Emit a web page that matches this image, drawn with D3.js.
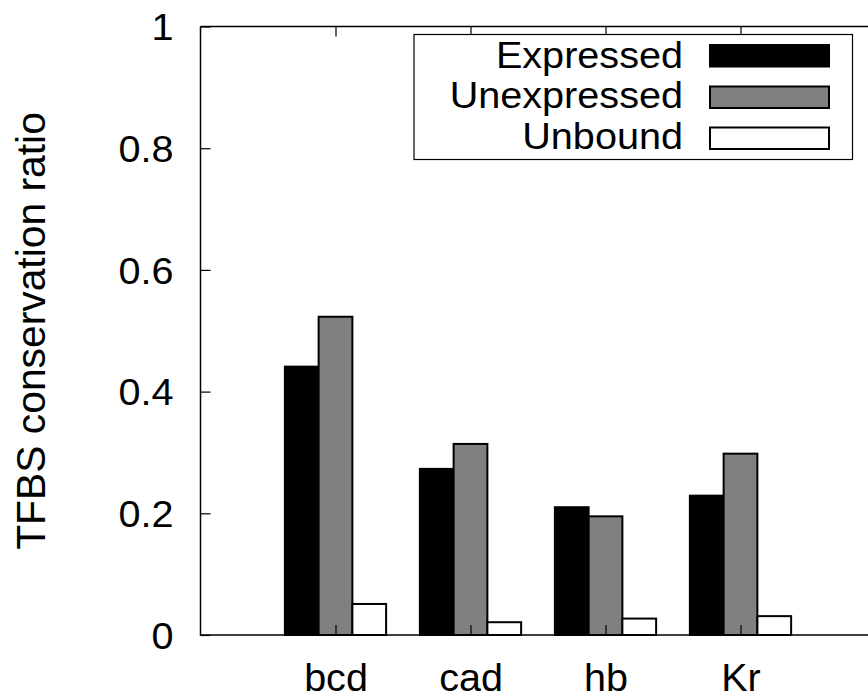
<!DOCTYPE html>
<html>
<head>
<meta charset="utf-8">
<script src="https://cdn.jsdelivr.net/npm/d3@7"></script>
<style>
  html, body { margin: 0; padding: 0; background: #fff; }
  svg { display: block; }
  text { font-family: "Liberation Sans", Arial, Helvetica, sans-serif; fill: #000; }
</style>
</head>
<body>
<svg id="chart" width="868" height="700"></svg>
<script>
const categories = ["bcd", "cad", "hb", "Kr"];
const seriesNames = ["Expressed", "Unexpressed", "Unbound"];
const expressed   = [0.441, 0.273, 0.210, 0.229];
const unexpressed = [0.523, 0.314, 0.195, 0.298];
const unbound     = [0.051, 0.021, 0.027, 0.031];
const yTicks = [0, 0.2, 0.4, 0.6, 0.8, 1];
const yTickLabels = ["0", "0.2", "0.4", "0.6", "0.8", "1"];
const yLabel = "TFBS conservation ratio";

const seriesValues = [expressed, unexpressed, unbound];
const seriesFill = ["#000000", "#808080", "#ffffff"];

const svg = d3.select("#chart");
const x = d3.scaleLinear().domain([0, 5]).range([200.5, 875.5]);
const y = d3.scaleLinear().domain([0, 1]).range([635, 26.5]);
const barW = 0.25;
const offsets = [-0.25, 0, 0.25];

function stretch(sel, f) {
  sel.each(function () {
    const len = this.getComputedTextLength();
    d3.select(this).attr("textLength", len * f).attr("lengthAdjust", "spacingAndGlyphs");
  });
}

// bars
seriesValues.forEach((vals, si) => {
  svg.append("g").selectAll("rect")
    .data(vals)
    .join("rect")
    .attr("x", (d, i) => x(i + 1 + offsets[si] - barW / 2))
    .attr("width", x(barW) - x(0))
    .attr("y", d => y(d))
    .attr("height", d => y(0) - y(d))
    .attr("fill", seriesFill[si])
    .attr("stroke", "#000")
    .attr("stroke-width", 2);
});

// border
const bx0 = x(0), bx1 = x(5), by0 = y(0), by1 = y(1);
svg.append("path")
  .attr("d", `M${bx0},${by1}H${bx1}M${bx0},${by1}V${by0}H${bx1}`)
  .attr("fill", "none").attr("stroke", "#000").attr("stroke-width", 1.5);

// y axis ticks (inward) and labels
const yAxis = d3.axisLeft(y).tickValues(yTicks)
  .tickFormat((d, i) => yTickLabels[i]).tickSize(-10).tickPadding(27);
const gy = svg.append("g").attr("transform", `translate(${bx0},0)`).call(yAxis);
gy.select(".domain").remove();
gy.selectAll(".tick line").attr("stroke", "#000").attr("stroke-width", 1.2);
gy.selectAll(".tick text").attr("font-size", 37).attr("dy", "0.36em")
  .style("font-family", "'Liberation Sans', Arial, sans-serif");
stretch(gy.selectAll(".tick text"), 1.07);

// x axis (bottom) labels, ticks inward
const xAxis = d3.axisBottom(x).tickValues([1, 2, 3, 4])
  .tickFormat((d, i) => categories[i]).tickSize(-10).tickPadding(29);
const gx = svg.append("g").attr("transform", `translate(0,${by0})`).call(xAxis);
gx.select(".domain").remove();
gx.selectAll(".tick line").attr("stroke", "#000").attr("stroke-width", 1.2);
gx.selectAll(".tick text").attr("font-size", 38).attr("dy", "0.71em")
  .style("font-family", "'Liberation Sans', Arial, sans-serif");
stretch(gx.selectAll(".tick text"), 1.04);

// top mirrored ticks
const xTop = d3.axisTop(x).tickValues([1, 2, 3, 4]).tickFormat("").tickSize(-10);
const gt = svg.append("g").attr("transform", `translate(0,${by1})`).call(xTop);
gt.select(".domain").remove();
gt.selectAll(".tick line").attr("stroke", "#000").attr("stroke-width", 1.2);

// y label
const yl = svg.append("text")
  .attr("transform", "translate(45,331) rotate(-90)")
  .attr("text-anchor", "middle")
  .attr("font-size", 40)
  .text(yLabel);
stretch(yl, 1.02);

// legend
const lg = svg.append("g");
lg.append("rect").attr("x", 414).attr("y", 34.5).attr("width", 438.5).attr("height", 125)
  .attr("fill", "#fff").attr("stroke", "#000").attr("stroke-width", 1.2);
const rowY = [55.5, 97, 138];
const rowBase = [68, 108, 148.5];
seriesNames.forEach((name, i) => {
  const t = lg.append("text")
    .attr("x", 683).attr("y", rowBase[i])
    .attr("text-anchor", "end")
    .attr("font-size", 36)
    .text(name);
  stretch(t, 1.1);
  lg.append("rect")
    .attr("x", 710).attr("y", rowY[i] - 10.5)
    .attr("width", 119).attr("height", 21.5)
    .attr("fill", seriesFill[i]).attr("stroke", "#000").attr("stroke-width", 2);
});
</script>
</body>
</html>
